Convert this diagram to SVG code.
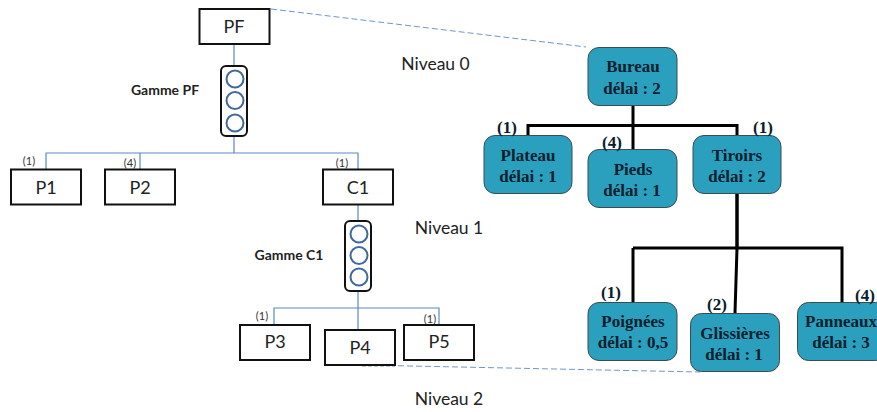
<svg xmlns="http://www.w3.org/2000/svg" width="877" height="412" viewBox="0 0 877 412">
<style>
.box{fill:#fff;stroke:#111;stroke-width:2}
.gam{fill:#fff;stroke:#111;stroke-width:2}
.c{fill:#fff;stroke:#41699c;stroke-width:2}
.tl{fill:#2b9fbe;stroke:#3d4a50;stroke-width:1}
.l{fill:none;stroke:#5b8ac4;stroke-width:1.2}
.d{fill:none;stroke:#6f97cc;stroke-width:1;stroke-dasharray:6 3}
.k{fill:none;stroke:#000;stroke-width:3}
.t{font-family:Lato,"Liberation Sans",sans-serif;fill:#222;text-anchor:middle}
.b{font-size:18px}
.n{font-size:17.500px}
.g{font-family:Lato,"Liberation Sans",sans-serif;font-size:14px;font-weight:700;fill:#222;text-anchor:middle}
.q{font-family:Lato,"Liberation Sans",sans-serif;font-size:11px;fill:#333;text-anchor:middle}
.s{font-family:"Liberation Serif",serif;font-size:17px;font-weight:700;fill:#08202c;text-anchor:middle}
</style>
<g id="connectors">
<path class="l" d="M234 44V66M234 136V153M46 170V153H358V170M140 153V170"/>
<path class="l" d="M358 205V222M358 292V308M274 325V308H439V325M358 308V330"/>
<path class="d" d="M271 9L586 47"/>
<path class="d" d="M362 365L700 372"/>
<path d="M362 365.500H395" fill="none" stroke="#1f3350" stroke-width="1.500" stroke-dasharray="4 2"/>
<path class="k" d="M633 105V149M528 135V125.500H737V135"/>
<path class="k" style="stroke-width:3.500" d="M737 194V248"/>
<path class="k" d="M633 248L735 248M633 248V302M633 248H842V302M737 248L735 313"/>
</g>
<g id="PF"><rect class="box" x="199.500" y="9" width="70" height="35"/><text class="t b" x="234" y="33">PF</text></g>
<g id="gammePF"><rect class="gam" x="221" y="66" width="26" height="70" rx="5"/><circle class="c" cx="235" cy="79" r="8.500"/><circle class="c" cx="235" cy="100.500" r="8.500"/><circle class="c" cx="235" cy="123" r="8.500"/><text class="g" x="165" y="95">Gamme PF</text></g>
<g id="P1"><rect class="box" x="11" y="169.500" width="70" height="35"/><text class="t b" x="46" y="194">P1</text><text class="q" x="29" y="165">(1)</text></g>
<g id="P2"><rect class="box" x="105" y="169.500" width="70" height="35"/><text class="t b" x="140" y="194">P2</text><text class="q" x="130" y="167">(4)</text></g>
<g id="C1"><rect class="box" x="323" y="169.500" width="70" height="35"/><text class="t b" x="358" y="194">C1</text><text class="q" x="342" y="167">(1)</text></g>
<g id="gammeC1"><rect class="gam" x="345" y="221" width="26" height="70" rx="5"/><circle class="c" cx="359" cy="234" r="8.500"/><circle class="c" cx="359" cy="255.500" r="8.500"/><circle class="c" cx="359" cy="277" r="8.500"/><text class="g" x="289" y="260">Gamme C1</text></g>
<g id="P3"><rect class="box" x="240" y="325" width="70" height="35"/><text class="t b" x="275" y="348">P3</text><text class="q" x="262" y="320">(1)</text></g>
<g id="P4"><rect class="box" x="325" y="330" width="70" height="35"/><text class="t b" x="360" y="354">P4</text></g>
<g id="P5"><rect class="box" x="404" y="325" width="70" height="35"/><text class="t b" x="439" y="348">P5</text><text class="q" x="430" y="323">(1)</text></g>
<text class="t n" x="435.500" y="70">Niveau 0</text>
<text class="t n" x="449" y="234">Niveau 1</text>
<text class="t n" x="449" y="405">Niveau 2</text>
<g id="Bureau"><rect class="tl" x="588" y="47.500" width="89" height="58" rx="11"/><text class="s" x="633" y="72">Bureau</text><text class="s" x="632" y="94">délai : 2</text></g>
<g id="Plateau"><rect class="tl" x="484" y="135.500" width="88" height="58" rx="11"/><text class="s" x="528" y="161">Plateau</text><text class="s" x="528" y="182">délai : 1</text><text class="s" x="507" y="133">(1)</text></g>
<g id="Pieds"><rect class="tl" x="588" y="149.500" width="89" height="58" rx="11"/><text class="s" x="633" y="175">Pieds</text><text class="s" x="632" y="196">délai : 1</text><text class="s" x="612" y="148">(4)</text></g>
<g id="Tiroirs"><rect class="tl" x="693" y="135.500" width="88" height="58" rx="11"/><text class="s" x="737" y="161">Tiroirs</text><text class="s" x="737" y="182">délai : 2</text><text class="s" x="763" y="133">(1)</text></g>
<g id="Poignees"><rect class="tl" x="588" y="302.500" width="89" height="58" rx="11"/><text class="s" x="633" y="327">Poignées</text><text class="s" x="633" y="348">délai : 0,5</text><text class="s" x="611" y="298">(1)</text></g>
<g id="Glissieres"><rect class="tl" x="690.500" y="313.500" width="89" height="58" rx="11"/><text class="s" x="735" y="339">Glissières</text><text class="s" x="734" y="360">délai : 1</text><text class="s" x="717" y="310">(2)</text></g>
<g id="Panneaux"><rect class="tl" x="797.500" y="302.500" width="89" height="58" rx="11"/><text class="s" x="841" y="327">Panneaux</text><text class="s" x="841" y="348">délai : 3</text><text class="s" x="865" y="301">(4)</text></g>
</svg>
